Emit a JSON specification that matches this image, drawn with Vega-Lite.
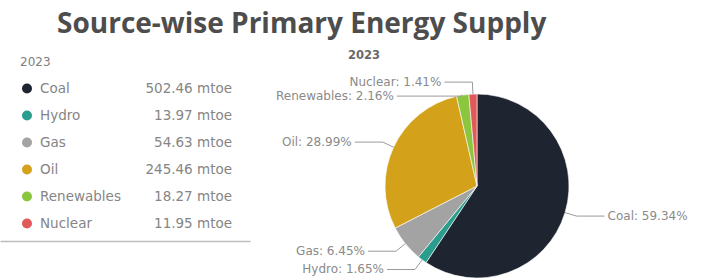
{
  "$schema": "https://vega.github.io/schema/vega-lite/v6.json",
  "padding": {"left": 0, "right": 0, "top": 10, "bottom": 0},
  "background": "white",
  "spacing": 0,
  "bounds": "flush",
  "datasets": {
    "energy": [
      {"source": "Coal", "mtoe": 502.46, "pct": 59.34},
      {"source": "Hydro", "mtoe": 13.97, "pct": 1.65},
      {"source": "Gas", "mtoe": 54.63, "pct": 6.45},
      {"source": "Oil", "mtoe": 245.46, "pct": 28.99},
      {"source": "Renewables", "mtoe": 18.27, "pct": 2.16},
      {"source": "Nuclear", "mtoe": 11.95, "pct": 1.41}
    ]
  },
  "title": {
    "text": "Source-wise Primary Energy Supply",
    "font": "Open Sans",
    "fontSize": 28,
    "fontWeight": "bold",
    "color": "#4d4d4d",
    "anchor": "start",
    "frame": "group",
    "dx": 57,
    "offset": 11
  },
  "config": {
    "view": {"stroke": null},
    "font": "DejaVu Sans",
    "title": {"font": "DejaVu Sans"}
  },
  "hconcat": [
    {
      "width": 250,
      "height": 162,
      "data": {"name": "energy"},
      "transform": [
        {"calculate": "format(datum.mtoe, '.2f') + ' mtoe'", "as": "amount"}
      ],
      "title": {"text": "2023", "anchor": "start", "dx": 20, "fontSize": 12, "fontWeight": "normal", "color": "#808080", "letterSpacing": 2, "offset": 6},
      "encoding": {
        "y": {"field": "source", "type": "nominal", "sort": null, "scale": {"type": "point", "padding": 0.5}, "axis": null}
      },
      "layer": [
        {
          "mark": {"type": "point", "filled": true, "size": 100, "opacity": 1},
          "encoding": {
            "x": {"datum": 27, "type": "quantitative", "scale": {"domain": [0, 250], "nice": false, "zero": false},
                  "axis": {"labels": false, "ticks": false, "grid": false, "title": null, "domain": true, "domainColor": "#bdbdbd", "domainWidth": 1.5, "offset": 4}},
            "color": {"field": "source", "type": "nominal",
                      "scale": {"domain": ["Coal", "Hydro", "Gas", "Oil", "Renewables", "Nuclear"],
                                "range": ["#1e2530", "#2a9d8f", "#a3a3a3", "#d4a21a", "#8cc63f", "#e05a5a"]},
                      "legend": null}
          }
        },
        {
          "mark": {"type": "text", "align": "left", "baseline": "middle", "fontSize": 13.5, "color": "#858585"},
          "encoding": {"x": {"datum": 40, "type": "quantitative"}, "text": {"field": "source"}}
        },
        {
          "mark": {"type": "text", "align": "right", "baseline": "middle", "fontSize": 13.5, "color": "#858585"},
          "encoding": {"x": {"datum": 232, "type": "quantitative"}, "text": {"field": "amount"}}
        }
      ]
    },
    {
      "width": 451,
      "height": 207,
      "data": {"name": "energy"},
      "title": {"text": "2023", "anchor": "start", "dx": 98, "fontSize": 11.5, "fontWeight": "bold", "color": "#6a6a6a", "letterSpacing": 5, "offset": 14},
      "transform": [
        {"window": [{"op": "sum", "field": "mtoe", "as": "cum"}], "frame": [null, 0]},
        {"joinaggregate": [{"op": "sum", "field": "mtoe", "as": "total"}]},
        {"calculate": "(datum.cum - datum.mtoe) / datum.total", "as": "f0"},
        {"calculate": "datum.cum / datum.total", "as": "f1"},
        {"calculate": "PI * (datum.f0 + datum.f1)", "as": "mid"},
        {"calculate": "sin(datum.mid) < 0 ? -1 : 1", "as": "side"},
        {"calculate": "92 * sin(datum.mid)", "as": "p1x"},
        {"calculate": "92 * cos(datum.mid)", "as": "p1y"},
        {"calculate": "104 * sin(datum.mid)", "as": "p2x"},
        {"calculate": "104 * cos(datum.mid)", "as": "p2y0"},
        {"window": [{"op": "lag", "field": "p2y0", "as": "prevy"}], "groupby": ["side"], "sort": [{"field": "p2y0", "order": "descending"}]},
        {"calculate": "datum.prevy == null ? datum.p2y0 : min(datum.p2y0, datum.prevy - 14)", "as": "p2y"},
        {"calculate": "datum.p2x + (28 + 2.8 * (datum.p2y0 - datum.p2y)) * datum.side", "as": "p3x"},
        {"calculate": "datum.p3x + 3 * datum.side", "as": "tx"},
        {"calculate": "datum.source + ': ' + format(datum.pct, '.2f') + '%'", "as": "lab"}
      ],
      "layer": [
        {
          "mark": {"type": "arc", "outerRadius": 92, "stroke": "#ffffff", "strokeWidth": 0.6},
          "encoding": {
            "theta": {"field": "f0", "type": "quantitative", "scale": {"domain": [0, 1]}},
            "theta2": {"field": "f1"},
            "x": {"datum": 0, "type": "quantitative", "scale": {"domain": [-227, 224], "nice": false, "zero": false}, "axis": null},
            "y": {"datum": 0, "type": "quantitative", "scale": {"domain": [-96, 111], "nice": false, "zero": false}, "axis": null},
            "color": {"field": "source", "type": "nominal", "legend": null}
          }
        },
        {
          "mark": {"type": "rule", "color": "#9a9a9a", "strokeWidth": 1},
          "encoding": {
            "x": {"field": "p1x", "type": "quantitative"},
            "y": {"field": "p1y", "type": "quantitative"},
            "x2": {"field": "p2x"},
            "y2": {"field": "p2y"}
          }
        },
        {
          "mark": {"type": "rule", "color": "#9a9a9a", "strokeWidth": 1},
          "encoding": {
            "x": {"field": "p2x", "type": "quantitative"},
            "y": {"field": "p2y", "type": "quantitative"},
            "x2": {"field": "p3x"},
            "y2": {"field": "p2y"}
          }
        },
        {
          "transform": [{"filter": "datum.side < 0"}],
          "mark": {"type": "text", "align": "right", "baseline": "middle", "fontSize": 12, "letterSpacing": 0.4, "color": "#8a8a8a"},
          "encoding": {
            "x": {"field": "tx", "type": "quantitative"},
            "y": {"field": "p2y", "type": "quantitative"},
            "text": {"field": "lab"}
          }
        },
        {
          "transform": [{"filter": "datum.side > 0"}],
          "mark": {"type": "text", "align": "left", "baseline": "middle", "fontSize": 12, "letterSpacing": 0.4, "color": "#8a8a8a"},
          "encoding": {
            "x": {"field": "tx", "type": "quantitative"},
            "y": {"field": "p2y", "type": "quantitative"},
            "text": {"field": "lab"}
          }
        }
      ]
    }
  ]
}
